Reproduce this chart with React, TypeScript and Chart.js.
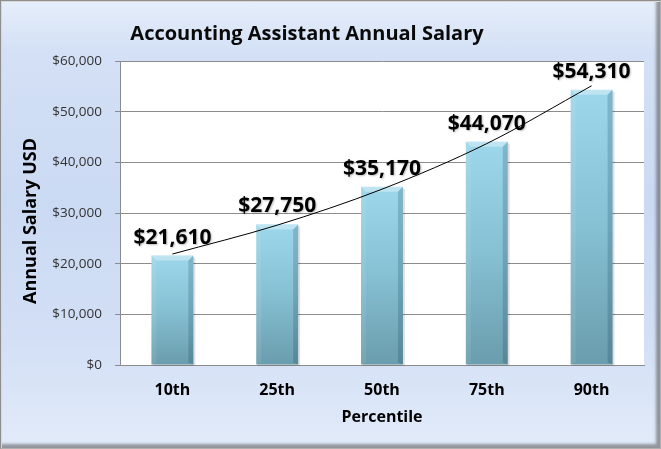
import { useEffect, useRef } from "react";
import { Chart, registerables } from "chart.js";

Chart.register(...registerables);

const chartTitle = "Accounting Assistant Annual Salary";
const percentiles = ["10th", "25th", "50th", "75th", "90th"];
const salaries = [21610, 27750, 35170, 44070, 54310];
// trendline heights
const trendValues = [21900, 27600, 34700, 43700, 55100];
const yTickValues = [0, 10000, 20000, 30000, 40000, 50000, 60000];
const xAxisTitle = "Percentile";
const yAxisTitle = "Annual Salary USD";

const FONT = "'Open Sans', 'Noto Sans', sans-serif";

const fmt = (v: number) => "$" + v.toLocaleString("en-US");

const plotBg = {
  id: "plotBg",
  beforeDraw(chart: any) {
    const { ctx, chartArea: a } = chart;
    ctx.save();
    ctx.fillStyle = "#ffffff";
    ctx.fillRect(a.left, a.top, a.right - a.left, a.bottom - a.top);
    ctx.restore();
  },
};

const bevelBars = {
  id: "bevelBars",
  afterDatasetDraw(chart: any, args: any) {
    if (args.index !== 0) return;
    const { ctx } = chart;
    const meta = chart.getDatasetMeta(0);
    meta.data.forEach((el: any) => {
      const { x, y, base, width } = el.getProps(["x", "y", "base", "width"], true);
      const l = x - width / 2;
      const r = x + width / 2;
      const t = y;
      const b = base;
      const bv = 5;
      ctx.save();
      ctx.fillStyle = "rgba(0,0,0,0.12)";
      ctx.fillRect(l + 2, t + 2, width, b - t - 1);
      const g = ctx.createLinearGradient(0, t, 0, b);
      g.addColorStop(0, "#9dd7eb");
      g.addColorStop(0.5, "#86c0d3");
      g.addColorStop(1, "#6a9dad");
      ctx.fillStyle = g;
      ctx.fillRect(l, t, width, b - t);
      ctx.fillStyle = "rgba(255,255,255,0.35)";
      ctx.beginPath();
      ctx.moveTo(l, t);
      ctx.lineTo(r, t);
      ctx.lineTo(r - bv, t + bv);
      ctx.lineTo(l + bv, t + bv);
      ctx.closePath();
      ctx.fill();
      ctx.fillStyle = "rgba(255,255,255,0.08)";
      ctx.beginPath();
      ctx.moveTo(l, t);
      ctx.lineTo(l + bv, t + bv);
      ctx.lineTo(l + bv, b - 2);
      ctx.lineTo(l, b);
      ctx.closePath();
      ctx.fill();
      ctx.fillStyle = "rgba(0,40,60,0.18)";
      ctx.beginPath();
      ctx.moveTo(r, t);
      ctx.lineTo(r - bv, t + bv);
      ctx.lineTo(r - bv, b - 2);
      ctx.lineTo(r, b);
      ctx.closePath();
      ctx.fill();
      ctx.restore();
    });
  },
};

const valueLabels = {
  id: "valueLabels",
  afterDatasetsDraw(chart: any) {
    const { ctx } = chart;
    const meta = chart.getDatasetMeta(0);
    ctx.save();
    ctx.font = `bold 21px ${FONT}`;
    ctx.textAlign = "center";
    ctx.textBaseline = "alphabetic";
    ctx.fillStyle = "#000000";
    ctx.shadowColor = "rgba(0,0,0,0.25)";
    ctx.shadowBlur = 2;
    ctx.shadowOffsetX = 1;
    ctx.shadowOffsetY = 1;
    meta.data.forEach((el: any, i: number) => {
      const { x, y } = el.getProps(["x", "y"], true);
      ctx.fillText(fmt(salaries[i]), x, y - 12);
    });
    ctx.restore();
  },
};

const titlePlugin = {
  id: "titleText",
  afterDraw(chart: any) {
    const { ctx } = chart;
    ctx.save();
    ctx.font = `bold 20px ${FONT}`;
    ctx.textAlign = "center";
    ctx.textBaseline = "middle";
    ctx.fillStyle = "#0a0a0a";
    ctx.fillText(chartTitle, 307, 34);
    // y axis title
    ctx.translate(31, 221);
    ctx.rotate(-Math.PI / 2);
    ctx.font = `bold 18px ${FONT}`;
    ctx.fillStyle = "#000000";
    ctx.fillText(yAxisTitle, 0, 0);
    ctx.restore();
  },
};

export default function App() {
  const ref = useRef<HTMLCanvasElement | null>(null);

  useEffect(() => {
    document.body.style.margin = "0";
    if (!ref.current) return;
    const chart = new Chart(ref.current, {
      type: "bar",
      data: {
        labels: percentiles,
        datasets: [
          {
            type: "bar",
            data: salaries,
            backgroundColor: "rgba(0,0,0,0)",
            borderWidth: 0,
            categoryPercentage: 1,
            barPercentage: 0.4,
            order: 1,
          },
          {
            type: "line",
            data: trendValues,
            borderColor: "#000000",
            borderWidth: 1,
            pointRadius: 0,
            fill: false,
            cubicInterpolationMode: "monotone",
            order: 0,
          } as any,
        ],
      },
      options: {
        animation: false,
        responsive: false,
        events: [],
        layout: { padding: { top: 61, right: 17, left: 0, bottom: 0 } },
        plugins: {
          legend: { display: false },
          tooltip: { enabled: false },
          title: { display: false },
        },
        scales: {
          x: {
            afterFit: (s: any) => {
              s.height = 84;
            },
            grid: { display: false, drawTicks: false },
            border: { display: true, color: "#8c8c8c", width: 1 },
            ticks: {
              padding: 16,
              color: "#000000",
              font: { family: FONT, size: 16, weight: "bold" },
            },
            title: {
              display: true,
              text: xAxisTitle,
              color: "#000000",
              font: { family: FONT, size: 16, weight: "bold" },
              padding: { top: 0, bottom: 22 },
            },
          },
          y: {
            min: 0,
            max: 60000,
            afterFit: (s: any) => {
              s.width = 120;
            },
            afterBuildTicks: (s: any) => {
              s.ticks = yTickValues.map((v) => ({ value: v }));
            },
            grid: { color: "#8c8c8c", lineWidth: 1, tickLength: 5, drawTicks: true },
            border: { display: true, color: "#8c8c8c", width: 1 },
            ticks: {
              padding: 13,
              color: "#333333",
              font: { family: FONT, size: 13.5 },
              callback: (v: any) => fmt(Number(v)),
            },
            title: { display: false },
          },
        },
      },
      plugins: [plotBg, bevelBars, valueLabels, titlePlugin],
    });
    return () => chart.destroy();
  }, []);

  return (
    <div
      style={{
        position: "relative",
        width: 661,
        height: 449,
        background:
          "linear-gradient(180deg, #e6eefa 0%, #d3e0f5 12%, #cbdaf3 45%, #d2dff5 75%, #e2ebf9 100%)",
        overflow: "hidden",
      }}
    >
      <canvas
        ref={ref}
        width={661}
        height={449}
        style={{ position: "absolute", left: 0, top: 0, width: 661, height: 449 }}
      />
      <div
        style={{
          position: "absolute",
          inset: 0,
          pointerEvents: "none",
          borderLeft: "1px solid #8e8e8e",
          borderTop: "1px solid #8e8e8e",
          borderRight: "1px solid #b0b0b0",
          borderBottom: "1px solid #b0b0b0",
          boxShadow:
            "inset 1px 1px 0 #d8d8d8, inset -6px -6px 3px -2px rgba(80,80,80,0.55)",
        }}
      />
    </div>
  );
}
